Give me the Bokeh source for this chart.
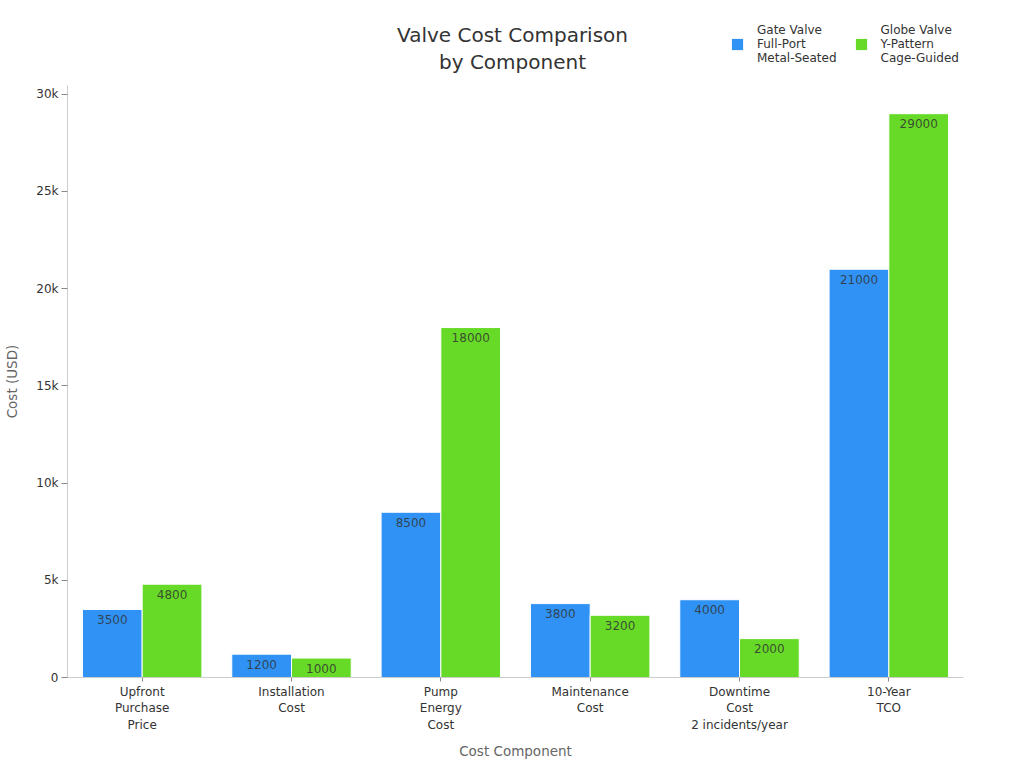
from bokeh.plotting import figure
from bokeh.layouts import column
from bokeh.models import (ColumnDataSource, FactorRange, Legend, LegendItem,
                          CustomJSTickFormatter, FixedTicker, Range1d, Label)
from bokeh.core.properties import value
from bokeh.transform import dodge
from bokeh.embed import file_html
from bokeh.resources import INLINE

# Cost components (x categories) and the two valve configurations
components = ["Upfront\nPurchase\nPrice", "Installation\nCost", "Pump\nEnergy\nCost",
              "Maintenance\nCost", "Downtime\nCost\n2 incidents/year", "10-Year\nTCO"]
gate_valve = [3500, 1200, 8500, 3800, 4000, 21000]
globe_valve = [4800, 1000, 18000, 3200, 2000, 29000]
series_names = ["Gate Valve\nFull-Port\nMetal-Seated", "Globe Valve\nY-Pattern\nCage-Guided"]
y_ticks = [0, 5000, 10000, 15000, 20000, 25000, 30000]

BLUE = "#2F92F4"
GREEN = "#66DA26"
FONT = "DejaVu Sans"
W = 1024
HEADER_H = 85
MAIN_H = 768 - HEADER_H
LEFT, RIGHT = 67, 61

# ---- header: title and legend -------------------------------------------
# the column layout aligns frames, so the header frame spans LEFT..W-RIGHT;
# its x range is set so that one data unit is one page pixel
header = figure(width=W, height=HEADER_H, x_range=Range1d(LEFT, W - RIGHT),
                y_range=Range1d(0, HEADER_H),
                output_backend="svg", toolbar_location=None,
                x_axis_type=None, y_axis_type=None,
                min_border_left=LEFT, min_border_right=RIGHT,
                min_border_top=0, min_border_bottom=0)
header.outline_line_color = None
header.xgrid.visible = False
header.ygrid.visible = False

header.add_layout(Label(x=512, y=HEADER_H - 48, text="Valve Cost Comparison\nby Component",
                        text_align="center", text_baseline="middle",
                        text_font=FONT, text_font_size="20px", text_color="#333333",
                        text_line_height=1.1))

# zero-size proxies that carry the series colours into the legend
proxy = ColumnDataSource(data=dict(x=[LEFT], top=[0]))
h_gate = header.vbar(x="x", top="top", width=0, source=proxy, fill_color=BLUE, line_color=None)
h_globe = header.vbar(x="x", top="top", width=0, source=proxy, fill_color=GREEN, line_color=None)

legend = Legend(items=[LegendItem(label=series_names[0], renderers=[h_gate]),
                       LegendItem(label=series_names[1], renderers=[h_globe])],
                orientation="horizontal", location=(730 - LEFT, 20),
                label_text_font=FONT, label_text_font_size="12px",
                label_text_color="#333333", label_text_line_height=1.4,
                glyph_width=14, glyph_height=14,
                label_standoff=13, spacing=17, border_line_color=None,
                background_fill_alpha=0, padding=0, margin=0)
header.add_layout(legend, "center")

# ---- main chart ---------------------------------------------------------
source = ColumnDataSource(data=dict(
    comp=components,
    gate=gate_valve,
    globe=globe_valve,
    gate_lbl=[str(v) for v in gate_valve],
    globe_lbl=[str(v) for v in globe_valve],
))

p = figure(x_range=FactorRange(*components, range_padding=0.0),
           y_range=Range1d(0, max(globe_valve) * 1.05),
           width=W, height=MAIN_H, output_backend="svg", toolbar_location=None,
           min_border_left=LEFT, min_border_right=RIGHT, min_border_top=0,
           min_border_bottom=91)

p.vbar(x=dodge("comp", -0.2, range=p.x_range), top="gate", width=0.4,
       source=source, fill_color=BLUE, line_color="white", line_width=1)
p.vbar(x=dodge("comp", 0.2, range=p.x_range), top="globe", width=0.4,
       source=source, fill_color=GREEN, line_color="white", line_width=1)

# value labels just inside the top of each bar
for col, off in (("gate", -0.2), ("globe", 0.2)):
    p.text(x=dodge("comp", off, range=p.x_range), y=col, text=col + "_lbl", source=source,
           text_align="center", text_baseline="middle", y_offset=10,
           text_font=value(FONT), text_font_size="12px",
           text_color="#333333", text_alpha=0.85)

p.xgrid.visible = False
p.ygrid.visible = False
p.outline_line_color = None

for ax in (p.xaxis[0], p.yaxis[0]):
    ax.axis_line_color = "#cccccc"
    ax.major_tick_line_color = "#888888"
    ax.major_label_text_font = FONT
    ax.major_label_text_font_size = "12px"
    ax.major_label_text_color = "#333333"
    ax.axis_label_text_font = FONT
    ax.axis_label_text_font_size = "13.5px"
    ax.axis_label_text_font_style = "normal"
    ax.axis_label_text_color = "#666666"
    ax.minor_tick_line_color = None
    ax.major_tick_in = 0

p.xaxis.major_tick_out = 4
p.yaxis.major_tick_out = 6
p.xaxis.axis_label = "Cost Component"
p.yaxis.axis_label = "Cost (USD)"
p.yaxis.ticker = FixedTicker(ticks=y_ticks)
p.yaxis.formatter = CustomJSTickFormatter(code="return tick == 0 ? '0' : (tick / 1000) + 'k';")
p.xaxis.major_label_standoff = 3
p.yaxis.major_label_standoff = 3
p.xaxis.axis_label_standoff = 8
p.yaxis.axis_label_standoff = 13

layout = column(header, p, spacing=0)
open("out.html", "w").write(file_html(layout, INLINE))
